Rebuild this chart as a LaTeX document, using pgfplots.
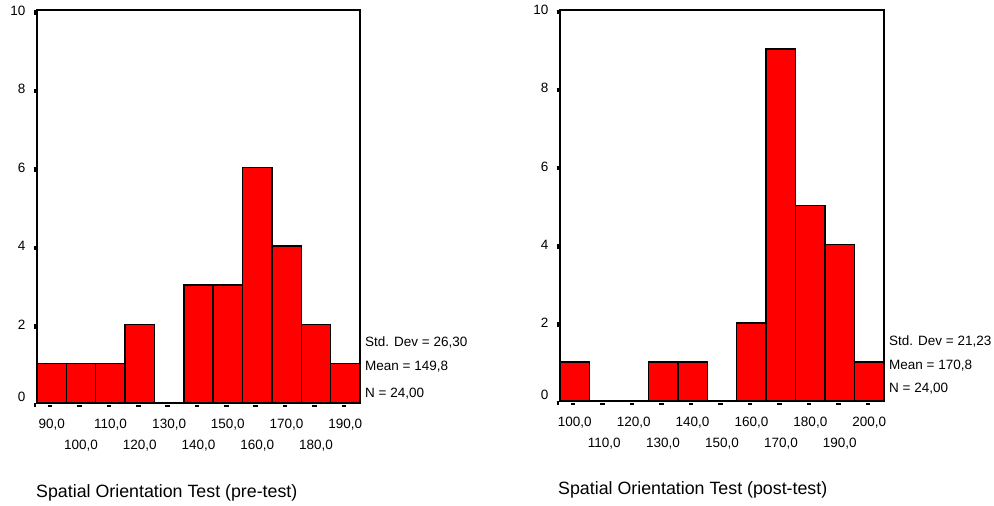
\documentclass[border=0pt]{standalone}
\usepackage{fontspec}
\setmainfont{Liberation Sans}
\usepackage{pgfplots}
\pgfplotsset{compat=1.18}
\pgfplotsset{
 spss/.style={
  scale only axis,
  anchor=south west,
  axis on top,
  axis line style={line width=2bp},
  ymin=0, ymax=10,
  ytick={0,2,4,6,8,10},
  yticklabels={\raisebox{6bp}[\height][\depth]{0},2,4,6,8,10},
  tick pos=left,
  tick align=outside,
  major tick length=2bp,
  tick style={black, line width=4.5bp, xshift=-1.5bp, yshift=-1.8bp},
  ticklabel style={font=\fontsize{13.5bp}{16bp}\selectfont},
  yticklabel style={xshift=-6bp},
  xticklabel style={yshift=-11bp},
  ybar, bar width=10, bar shift=0,
  clip=false,
  /pgf/number format/assume math mode=true,
 },
}
\tikzset{stat/.style={anchor=west, inner sep=0pt, font=\fontsize{13.5bp}{16bp}\selectfont}}
\begin{document}
\begin{tikzpicture}
\useasboundingbox (0,0) rectangle (994bp,506bp);
\begin{axis}[spss, at={(37bp,103bp)}, width=323bp, height=392.5bp,
  xmin=85, xmax=195,
  xtick={90,110,130,150,170,190},
  xticklabels={90{,}0,110{,}0,130{,}0,150{,}0,170{,}0,190{,}0},
  extra x ticks={100,120,140,160,180},
  extra x tick labels={100{,}0,120{,}0,140{,}0,160{,}0,180{,}0},
  extra x tick style={xticklabel style={yshift=-21bp}}]
\addplot[fill=red, draw=black, line width=1.5bp] coordinates
 {(90,1)(100,1)(110,1)(120,2)(130,0)(140,3)(150,3)(160,6)(170,4)(180,2)(190,1)};
\node[stat] at (axis cs:196.7,1.53) {Std. Dev = 26,30};
\node[stat] at (axis cs:196.7,0.92) {Mean = 149,8};
\node[stat] at (axis cs:196.7,0.23) {N = 24,00};
\end{axis}
\begin{axis}[spss, at={(560bp,105bp)}, width=324bp, height=391bp,
  xmin=95, xmax=205,
  xtick={100,120,140,160,180,200},
  xticklabels={100{,}0,120{,}0,140{,}0,160{,}0,180{,}0,200{,}0},
  extra x ticks={110,130,150,170,190},
  extra x tick labels={110{,}0,130{,}0,150{,}0,170{,}0,190{,}0},
  extra x tick style={xticklabel style={yshift=-21bp}}]
\addplot[fill=red, draw=black, line width=1.5bp] coordinates
 {(100,1)(110,0)(120,0)(130,1)(140,1)(150,0)(160,2)(170,9)(180,5)(190,4)(200,1)};
\node[stat] at (axis cs:206.7,1.53) {Std. Dev = 21,23};
\node[stat] at (axis cs:206.7,0.90) {Mean = 170,8};
\node[stat] at (axis cs:206.7,0.31) {N = 24,00};
\end{axis}
\node[anchor=west, inner sep=0pt, font=\fontsize{17.8bp}{20bp}\selectfont] at (36bp,13bp) {Spatial Orientation Test (pre-test)};
\node[anchor=west, inner sep=0pt, font=\fontsize{17.8bp}{20bp}\selectfont] at (558bp,16bp) {Spatial Orientation Test (post-test)};
\end{tikzpicture}
\end{document}
